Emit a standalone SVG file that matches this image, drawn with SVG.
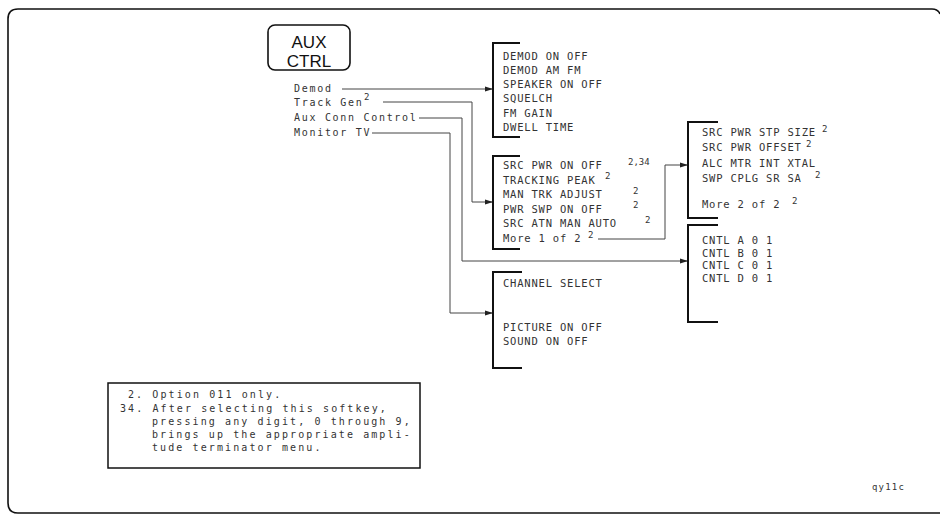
<svg xmlns="http://www.w3.org/2000/svg" width="940" height="515" viewBox="0 0 940 515">
<style>
text{font-family:"DejaVu Sans Mono","Liberation Mono",monospace;fill:#333}
.m{font-size:10.5px;letter-spacing:0.8px}
.l{font-size:10px;letter-spacing:1.7px}
.f{font-size:10px;letter-spacing:2.1px}
.s{font-size:9px}
.key{font-family:"Liberation Sans",Arial,sans-serif;font-size:17px;fill:#111}
.br{fill:none;stroke:#111;stroke-width:2}
.cn{fill:none;stroke:#444;stroke-width:1}
.fr{fill:none;stroke:#111;stroke-width:1.6}
</style>
<defs>
<marker id="ah" markerUnits="userSpaceOnUse" markerWidth="9" markerHeight="6" refX="8" refY="3" orient="auto">
<path d="M0,0.5 L8,3 L0,5.5 z" fill="#222"/>
</marker>
</defs>
<path class="fr" d="M940,14 Q938,9 932,9 H18 Q8,9 8,19 V503 Q8,513 18,513 H940"/>
<g id="aux-ctrl">
<rect x="268" y="25" width="82" height="45" rx="7" fill="none" stroke="#111" stroke-width="1.6"/>
<text class="key" x="309" y="48" text-anchor="middle">AUX</text>
<text class="key" x="309" y="67" text-anchor="middle">CTRL</text>
</g>
<g id="key-demod"><text class="l" x="294" y="92">Demod</text></g>
<g id="key-trackgen"><text class="l" x="294" y="106">Track Gen</text><text class="s" x="364" y="100">2</text></g>
<g id="key-auxconn"><text class="l" x="294" y="121">Aux Conn Control</text></g>
<g id="key-monitor"><text class="l" x="294" y="136">Monitor TV</text></g>
<g id="connectors">
<path class="cn" d="M342,89 H493" marker-end="url(#ah)"/>
<path class="cn" d="M383,102 H472 V202 H493" marker-end="url(#ah)"/>
<path class="cn" d="M419,118 H462 V261 H688" marker-end="url(#ah)"/>
<path class="cn" d="M372,133 H450 V313 H493" marker-end="url(#ah)"/>
<path class="cn" d="M598,239 H665 V165 H688" marker-end="url(#ah)"/>
</g>
<g id="menu-demod">
<path class="br" d="M520,43 H493 V137 H520"/>
<text class="m" x="503" y="59.5">DEMOD ON OFF</text>
<text class="m" x="503" y="73.8">DEMOD AM FM</text>
<text class="m" x="503" y="88.1">SPEAKER ON OFF</text>
<text class="m" x="503" y="102.4">SQUELCH</text>
<text class="m" x="503" y="116.7">FM GAIN</text>
<text class="m" x="503" y="131">DWELL TIME</text>
</g>
<g id="menu-trackgen1">
<path class="br" d="M520,156 H493 V249 H520"/>
<text class="m" x="503" y="169">SRC PWR ON OFF</text><text class="s" x="628" y="164.5">2,34</text>
<text class="m" x="503" y="183.6">TRACKING PEAK</text><text class="s" x="605" y="179">2</text>
<text class="m" x="503" y="198.2">MAN TRK ADJUST</text><text class="s" x="633" y="193.6">2</text>
<text class="m" x="503" y="212.8">PWR SWP ON OFF</text><text class="s" x="633" y="208.2">2</text>
<text class="m" x="503" y="227.4">SRC ATN MAN AUTO</text><text class="s" x="645" y="222.8">2</text>
<text class="m" x="503" y="242">More 1 of 2</text><text class="s" x="588" y="237.8">2</text>
</g>
<g id="menu-trackgen2">
<path class="br" d="M718,122 H688 V218 H718"/>
<text class="m" x="702" y="136">SRC PWR STP SIZE</text><text class="s" x="822" y="131.5">2</text>
<text class="m" x="702" y="151">SRC PWR OFFSET</text><text class="s" x="806" y="146.5">2</text>
<text class="m" x="702" y="167">ALC MTR INT XTAL</text>
<text class="m" x="702" y="182">SWP CPLG SR SA</text><text class="s" x="815" y="177.5">2</text>
<text class="m" x="702" y="208">More 2 of 2</text><text class="s" x="792" y="203.5">2</text>
</g>
<g id="menu-auxconn">
<path class="br" d="M718,225 H688 V322 H718"/>
<text class="m" x="702" y="244">CNTL A 0 1</text>
<text class="m" x="702" y="257">CNTL B 0 1</text>
<text class="m" x="702" y="269">CNTL C 0 1</text>
<text class="m" x="702" y="282">CNTL D 0 1</text>
</g>
<g id="menu-monitor">
<path class="br" d="M522,272 H493 V368 H522"/>
<text class="m" x="503" y="287">CHANNEL SELECT</text>
<text class="m" x="503" y="331">PICTURE ON OFF</text>
<text class="m" x="503" y="345">SOUND ON OFF</text>
</g>
<g id="footnotes">
<rect x="108" y="383" width="312" height="85" fill="none" stroke="#111" stroke-width="1.5"/>
<text class="f" x="128" y="398">2. Option 011 only.</text>
<text class="f" x="120" y="412">34. After selecting this softkey,</text>
<text class="f" x="152" y="425">pressing any digit, 0 through 9,</text>
<text class="f" x="152" y="438">brings up the appropriate ampli-</text>
<text class="f" x="152" y="451">tude terminator menu.</text>
</g>
<text class="l" x="872" y="490" style="font-size:9px;letter-spacing:1.2px">qy11c</text>
</svg>
